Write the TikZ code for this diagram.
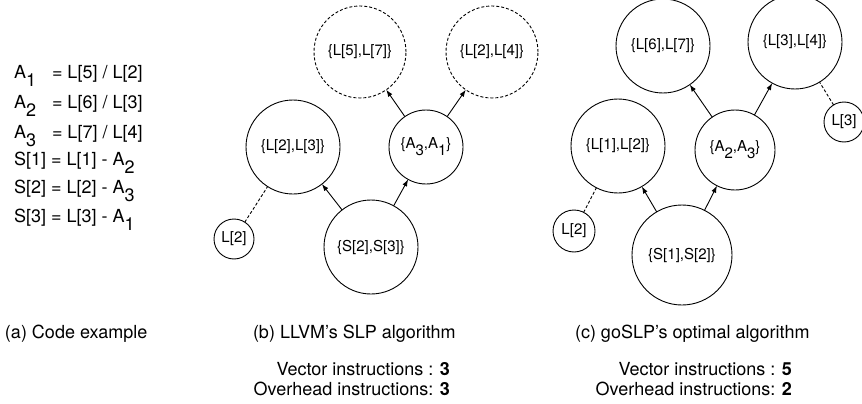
\documentclass[tikz,border=0pt]{standalone}
\usepackage{fontspec}
\setmainfont{TeX Gyre Heros}
\usetikzlibrary{arrows.meta}
\newcommand\sbx[1]{\raisebox{-0.45em}{#1}}
\begin{document}
\begin{tikzpicture}[x=1pt,y=-1pt,
  every node/.style={inner sep=0pt, outer sep=0pt},
  codeline/.style={anchor=base west, font=\fontsize{18}{21}\selectfont},
  capl/.style={anchor=base west, font=\fontsize{18}{21}\selectfont},
  capr/.style={anchor=base east, font=\fontsize{18}{21}\selectfont},
  vn/.style={circle, draw, line width=0.9pt, minimum size=#1, font=\fontsize{15}{18}\selectfont},
  dn/.style={vn=#1, dash pattern=on 3pt off 2pt},
  ar/.style={-{Latex[length=7pt,width=5pt]}, line width=0.9pt},
  dl/.style={line width=0.9pt, dash pattern=on 3pt off 2pt}]
\useasboundingbox (0,0) rectangle (862,404);

% code
\node[codeline] (a1) at (14,78) {A\sbx{1}};
\node[codeline] (a1r) at (52,78) {= L[5] / L[2]};
\node[codeline] (a2) at (14,108) {A\sbx{2}};
\node[codeline] (a2r) at (52,108) {= L[6] / L[3]};
\node[codeline] (a3) at (14,138) {A\sbx{3}};
\node[codeline] (a3r) at (52,138) {= L[7] / L[4]};
\node[codeline] (s1) at (14,165) {S[1] = L[1] - A\sbx{2}};
\node[codeline] (s2) at (14,193) {S[2] = L[2] - A\sbx{3}};
\node[codeline] (s3) at (14,222) {S[3] = L[3] - A\sbx{1}};

% middle graph
\node[dn=92pt] (bL57) at (360,52) {\{L[5],L[7]\}};
\node[dn=92pt] (bL24) at (492,52) {\{L[2],L[4]\}};
\node[vn=94pt] (bL23) at (293,147) {\{L[2],L[3]\}};
\node[vn=74pt] (bA31) at (426,147) {\{A\sbx{3},A\sbx{1}\}};
\node[vn=94pt] (bS23) at (371,247) {\{S[2],S[3]\}};
\node[vn=40pt] (bL2) at (234,239) {L[2]};
\draw[ar] (bS23) -- (bL23);
\draw[ar] (bS23) -- (bA31);
\draw[ar] (bA31) -- (bL57);
\draw[ar] (bA31) -- (bL24);
\draw[dl] (bL2) -- (bL23);

% right graph
\node[vn=94pt] (cL67) at (663,46) {\{L[6],L[7]\}};
\node[vn=94pt] (cL34) at (795,42) {\{L[3],L[4]\}};
\node[vn=40pt] (cL3) at (844,122) {L[3]};
\node[vn=94pt] (cL12) at (618,146) {\{L[1],L[2]\}};
\node[vn=80pt] (cA23) at (735,150) {\{A\sbx{2},A\sbx{3}\}};
\node[vn=100pt] (cS12) at (682,255) {\{S[1],S[2]\}};
\node[vn=42pt] (cL2) at (574,231) {L[2]};
\draw[ar] (cS12) -- (cL12);
\draw[ar] (cS12) -- (cA23);
\draw[ar] (cA23) -- (cL67);
\draw[ar] (cA23) -- (cL34);
\draw[dl] (cL2) -- (cL12);
\draw[dl] (cL3) -- (cL34);

% captions
\node[capl] (capa) at (5,338) {(a) Code example};
\node[capl] (capb) at (253,338) {(b) LLVM’s SLP algorithm};
\node[capl] (capc) at (575,338) {(c) goSLP’s optimal algorithm};
\node[capr] (vb) at (450,375) {Vector instructions : \textbf{3}};
\node[capr] (ob) at (450,395) {Overhead instructions: \textbf{3}};
\node[capr] (vc) at (792,375) {Vector instructions : \textbf{5}};
\node[capr] (oc) at (792,395) {Overhead instructions: \textbf{2}};
\end{tikzpicture}
\end{document}
